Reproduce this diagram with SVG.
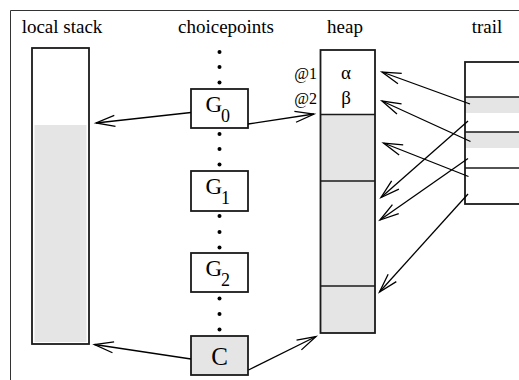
<svg xmlns="http://www.w3.org/2000/svg" width="519" height="380" viewBox="0 0 519 380" font-family="'Liberation Serif', 'DejaVu Serif', 'Times New Roman', serif">
<style>
text{font-family:"Liberation Serif","DejaVu Serif","Times New Roman",serif;fill:#000}
.lbl{font-size:19px;text-anchor:middle}
.box{fill:#fff;stroke:#1a1a1a;stroke-width:1.8}
.gbox{fill:#e5e5e5;stroke:#1a1a1a;stroke-width:1.8}
.gray{fill:#e5e5e5;stroke:none}
.div{stroke:#1a1a1a;stroke-width:1.6;fill:none}
.conn line{stroke:#000;stroke-width:1.3;marker-end:url(#ah)}
.dot{fill:#000}
.g{font-size:23px}
.sub{font-size:18px}
</style>
<defs>
<marker id="ah" markerUnits="userSpaceOnUse" orient="auto" overflow="visible" markerWidth="1" markerHeight="1" refX="0" refY="0">
<path d="M-19,-5.5 L0,0 L-19,5.5" fill="none" stroke="#000" stroke-width="1.3"/>
</marker>
</defs>
<rect width="519" height="380" fill="#fff"/>
<path d="M10.5,380 V10.5 H519" fill="none" stroke="#333" stroke-width="1"/>
<text class="lbl" x="62" y="33">local stack</text>
<text class="lbl" x="226" y="33">choicepoints</text>
<text class="lbl" x="345" y="33">heap</text>
<text class="lbl" x="487" y="33">trail</text>
<g id="local-stack">
<rect class="box" x="32" y="48" width="57" height="296"/>
<rect class="gray" x="34.5" y="125" width="52" height="217"/>
</g>
<g id="dots" class="dot">
<circle cx="219.5" cy="52" r="2"/><circle cx="219.5" cy="67" r="2"/><circle cx="219.5" cy="82.5" r="2"/>
<circle cx="219.5" cy="134" r="2"/><circle cx="219.5" cy="149" r="2"/><circle cx="219.5" cy="164.5" r="2"/>
<circle cx="219.5" cy="216" r="2"/><circle cx="219.5" cy="232" r="2"/><circle cx="219.5" cy="247.5" r="2"/>
<circle cx="219.5" cy="298.5" r="2"/><circle cx="219.5" cy="314" r="2"/><circle cx="219.5" cy="329.5" r="2"/>
</g>
<g id="G0">
<rect class="box" x="191" y="89" width="57" height="39"/>
<text class="g" x="205.5" y="112">G</text><text class="sub" x="221" y="122">0</text>
</g>
<g id="G1">
<rect class="box" x="191" y="171" width="57" height="40"/>
<text class="g" x="205.5" y="194">G</text><text class="sub" x="221" y="204">1</text>
</g>
<g id="G2">
<rect class="box" x="191" y="253" width="57" height="39"/>
<text class="g" x="205.5" y="276">G</text><text class="sub" x="221" y="286">2</text>
</g>
<g id="C">
<rect class="gbox" x="191" y="336" width="57" height="39"/>
<text x="219.5" y="365" font-size="25" text-anchor="middle">C</text>
</g>
<g id="heap">
<rect class="gray" x="320.5" y="114" width="54.5" height="219"/>
<rect x="320.5" y="50" width="54.5" height="283" fill="none" stroke="#1a1a1a" stroke-width="1.8"/>
<line class="div" x1="320.5" y1="114.5" x2="375" y2="114.5" stroke-width="2.2"/>
<line class="div" x1="320.5" y1="181" x2="375" y2="181"/>
<line class="div" x1="320.5" y1="286" x2="375" y2="286"/>
<text x="346" y="79" font-size="19" text-anchor="middle">α</text>
<text x="346" y="104" font-size="19" text-anchor="middle">β</text>
<text x="317" y="79" font-size="16" text-anchor="end">@1</text>
<text x="317" y="104" font-size="16" text-anchor="end">@2</text>
</g>
<g id="trail">
<rect class="gray" x="465" y="97" width="60" height="16"/>
<rect class="gray" x="465" y="132" width="60" height="16"/>
<rect x="465" y="62" width="80" height="142" fill="none" stroke="#1a1a1a" stroke-width="1.8"/>
<line class="div" x1="465" y1="97" x2="525" y2="97"/>
<line class="div" x1="465" y1="132" x2="525" y2="132"/>
<line class="div" x1="465" y1="168" x2="525" y2="168"/>
</g>
<g id="connectors" class="conn">
<line x1="191" y1="112.5" x2="96" y2="123"/>
<line x1="248" y1="124" x2="314" y2="114"/>
<line x1="191" y1="359" x2="94.5" y2="344.5"/>
<line x1="248.5" y1="370" x2="316" y2="336.5"/>
<line x1="470" y1="104" x2="382" y2="72"/>
<line x1="470.5" y1="141.5" x2="382" y2="101"/>
<line x1="468.5" y1="176.5" x2="383.5" y2="143"/>
<line x1="468" y1="121" x2="381" y2="197.5"/>
<line x1="468" y1="158.5" x2="380" y2="220"/>
<line x1="468" y1="194" x2="379.5" y2="292"/>
</g>
</svg>
